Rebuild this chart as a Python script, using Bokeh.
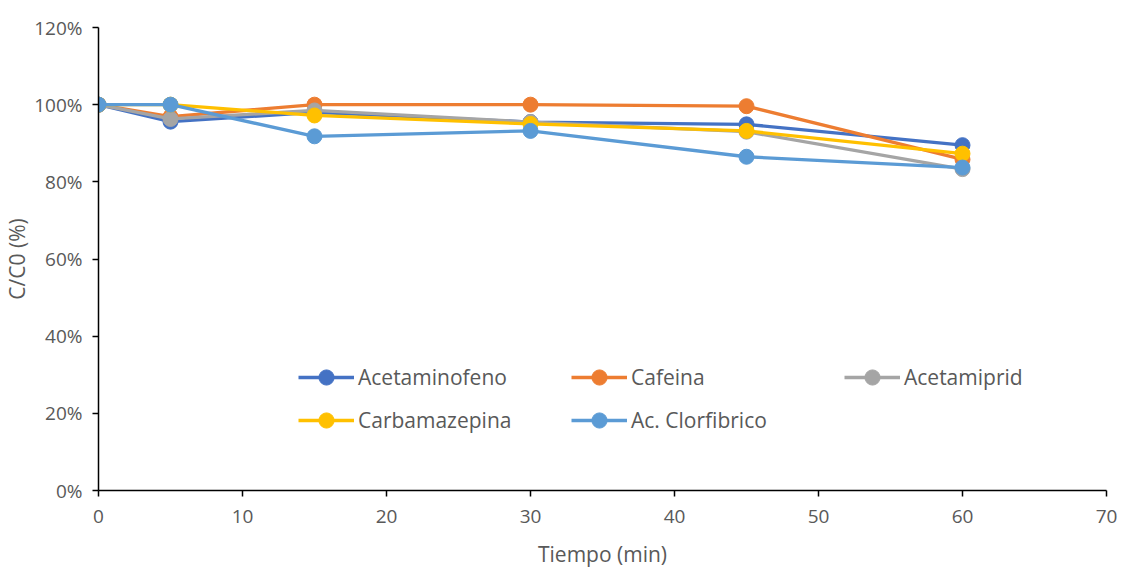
from bokeh.plotting import figure
from bokeh.models import FixedTicker, PrintfTickFormatter, Legend, LegendItem, Range1d
from bokeh.embed import file_html
from bokeh.resources import INLINE

tiempo = [0, 5, 15, 30, 45, 60]
acetaminofeno = [100, 95.6, 98.0, 95.5, 94.9, 89.5]
cafeina = [100, 96.9, 100.0, 100.0, 99.6, 85.8]
acetamiprid = [100, 96.3, 98.5, 95.5, 93.0, 83.3]
carbamazepina = [100, 100.0, 97.2, 95.0, 93.2, 87.3]
clorfibrico = [100, 100.0, 91.8, 93.2, 86.5, 83.7]

series_names = ["Acetaminofeno", "Cafeina", "Acetamiprid", "Carbamazepina", "Ac. Clorfibrico"]
series_values = [acetaminofeno, cafeina, acetamiprid, carbamazepina, clorfibrico]
colors = ["#4472C4", "#ED7D31", "#A5A5A5", "#FFC000", "#5B9BD5"]
y_ticks = [0, 20, 40, 60, 80, 100, 120]
x_ticks = [0, 10, 20, 30, 40, 50, 60, 70]

FONT = "Open Sans"
GREY = "#595959"

p = figure(width=1123, height=571, output_backend="svg", toolbar_location=None,
           x_range=Range1d(0, 70), y_range=Range1d(0, 120),
           min_border_left=98, min_border_right=17, min_border_top=27, min_border_bottom=81)
p.outline_line_color = None
p.xgrid.visible = False
p.ygrid.visible = False

items = {}
for name, vals, c in zip(series_names, series_values, colors):
    r1 = p.line(tiempo, vals, line_color=c, line_width=3.3)
    r2 = p.scatter(tiempo, vals, size=15, fill_color=c, line_color=c)
    items[name] = LegendItem(label=name, renderers=[r1, r2])

for ax in (p.xaxis[0], p.yaxis[0]):
    ax.axis_line_color = "black"
    ax.axis_line_width = 1.5
    ax.major_tick_line_color = "black"
    ax.major_tick_line_width = 1.5
    ax.major_tick_out = 6
    ax.major_tick_in = 0
    ax.minor_tick_line_color = None
    ax.major_label_text_font = FONT
    ax.major_label_text_color = GREY
    ax.major_label_text_font_size = "19px"
    ax.axis_label_text_font = FONT
    ax.axis_label_text_color = GREY
    ax.axis_label_text_font_style = "normal"
    ax.axis_label_text_font_size = "21px"

p.xaxis.ticker = FixedTicker(ticks=x_ticks)
p.yaxis.ticker = FixedTicker(ticks=y_ticks)
p.yaxis.formatter = PrintfTickFormatter(format="%d%%")
p.xaxis.axis_label = "Tiempo (min)"
p.yaxis.axis_label = "C/C0 (%)"
p.xaxis.axis_label_standoff = 14
p.yaxis.axis_label_standoff = 0
p.xaxis.major_label_standoff = 13
p.yaxis.major_label_standoff = 10

# column-major fill -> row-major appearance
order = ["Acetaminofeno", "Carbamazepina", "Cafeina", "Ac. Clorfibrico", "Acetamiprid"]
legend = Legend(items=[items[n] for n in order], ncols=3, location=(200, 51),
                label_text_font=FONT, label_text_color=GREY, label_text_font_size="21px",
                glyph_width=56, glyph_height=38, label_width=208, label_height=20,
                label_standoff=4, spacing=5, padding=0, margin=0, border_line_color=None,
                background_fill_alpha=0)
p.add_layout(legend, "center")

open("out.html", "w").write(file_html(p, INLINE))
